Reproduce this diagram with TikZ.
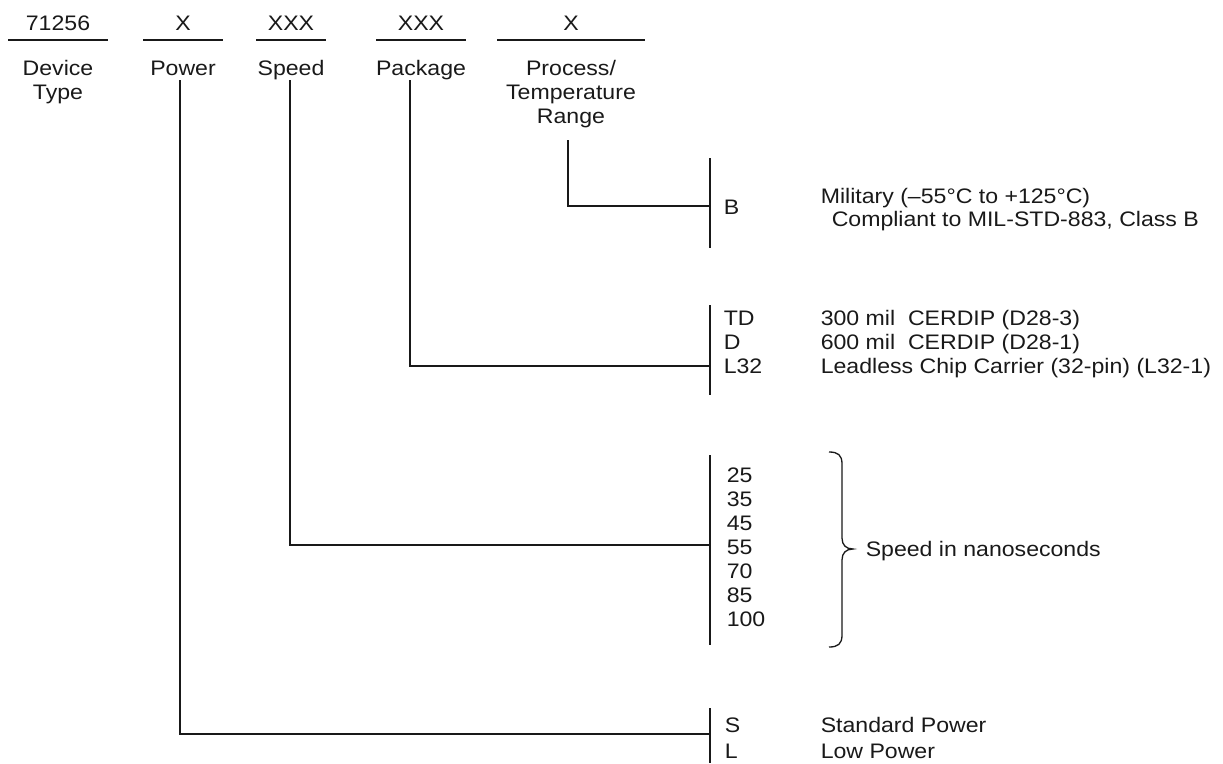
\documentclass[tikz,border=0pt]{standalone}
\usepackage{fontspec}
\setmainfont{Liberation Sans}[FakeStretch=1.1]

\begin{document}
\begin{tikzpicture}[x=1pt, y=-1pt, line width=1.5pt, color=black!90,
    every node/.style={inner sep=0pt, font=\fontsize{21}{24}\selectfont},
    field/.style={anchor=center},
    caption/.style={anchor=north, align=center},
    code/.style={anchor=base west},
    desc/.style={anchor=base west}]
    \useasboundingbox (0,0) rectangle (1223,763);

    % Header fields: name/centre/underline start/underline end/text
    \foreach \name/\cx/\xa/\xb/\txt in {dev/58/8/108/71256, pow/183/143/223/X,
        spd/291/256/326/XXX, pkg/421/376/466/XXX, proc/571/497/645/X} {
        \node[field] (\name) at (\cx, 23) {\txt};
        \draw (\xa, 40) -- (\xb, 40);
    }

    % Captions under the fields
    \node[caption] (devcap) at (58, 60) {Device\\Type};
    \node[caption] (powcap) at (183, 60) {Power};
    \node[caption] (spdcap) at (291, 60) {Speed};
    \node[caption] (pkgcap) at (421, 60) {Package};
    \node[caption] (proccap) at (571, 60) {Process/\\Temperature\\Range};

    % Bars on the right
    \foreach \name/\ya/\yb in {procbar/158/248, pkgbar/305/395, spdbar/455/645, powbar/708/763} {
        \coordinate (\name-t) at (710, \ya);
        \coordinate (\name-b) at (710, \yb);
        \draw (\name-t) -- (\name-b);
    }

    % Connectors from the fields to the bars
    \coordinate (proctop) at (568, 140);
    \coordinate (procjoin) at (710, 206);
    \coordinate (pkgtop) at (410, 80);
    \coordinate (pkgjoin) at (710, 366);
    \coordinate (spdtop) at (290, 80);
    \coordinate (spdjoin) at (710, 545);
    \coordinate (powtop) at (180, 80);
    \coordinate (powjoin) at (710, 734);
    \draw (proctop) |- (procjoin);
    \draw (pkgtop) |- (pkgjoin);
    \draw (spdtop) |- (spdjoin);
    \draw (powtop) |- (powjoin);

    % Process / temperature range
    \node[code] (codeB) at (723, 214) {B};
    \node[desc] (mil) at (820, 203) {Military (–55°C to +125°C)};
    \node[desc] (cls) at (831, 226) {Compliant to MIL-STD-883, Class B};

    % Packages
    \node[code] (codeTD) at (723, 325) {TD};
    \node[code] (codeD) at (723, 349) {D};
    \node[code] (codeL) at (723, 373) {L32};
    \node[desc] (descTD) at (820, 325) {300 mil\ \ CERDIP (D28-3)};
    \node[desc] (descD) at (820, 349) {600 mil\ \ CERDIP (D28-1)};
    \node[desc] (descL) at (820, 373) {Leadless Chip Carrier (32-pin) (L32-1)};

    % Speed grades
    \foreach \s [count=\i] in {25,35,45,55,70,85,100} {
        \pgfmathsetmacro{\yy}{482 + (\i-1)*24}
        \node[code] (speed\i) at (726, \yy) {\s};
    }
    % Brace: short hooks, straight spine, small tip
    \coordinate (brace-t) at (829, 452);
    \coordinate (brace-b) at (829, 647);
    \coordinate (brace-tip) at (853, 549);
    \draw[line width=1.3pt] (brace-t) .. controls (838,452) and (842,455) .. (842,464)
        -- (842,538) .. controls (842,545) and (846,549) .. (brace-tip)
        .. controls (846,549) and (842,553) .. (842,560)
        -- (842,635) .. controls (842,644) and (838,647) .. (brace-b);
    \node[desc] (spdtxt) at (865, 556) {Speed in nanoseconds};

    % Power
    \node[code] (codeS) at (724, 732) {S};
    \node[code] (codeLo) at (724, 758) {L};
    \node[desc] (descS) at (820, 732) {Standard Power};
    \node[desc] (descLo) at (820, 758) {Low Power};
\end{tikzpicture}
\end{document}
